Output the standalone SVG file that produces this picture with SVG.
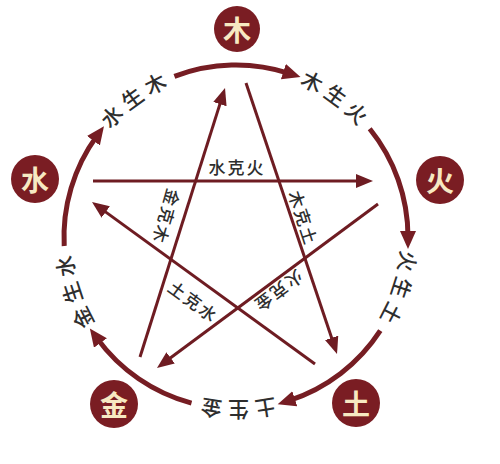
<svg xmlns="http://www.w3.org/2000/svg" width="500" height="464" viewBox="0 0 500 464">
<style>
.ring{fill:none;stroke:#761d23;stroke-width:5;marker-end:url(#ah-big)}
.ke{fill:none;stroke:#6e1c22;stroke-width:3;marker-end:url(#ah)}
.node circle{fill:#7a1d23}
.node text{font-family:"Noto Sans CJK SC","Noto Sans",sans-serif;font-size:28px;font-weight:bold;fill:#f7e9c2;text-anchor:middle;dominant-baseline:central}
.rl{font-family:"Noto Sans CJK SC","Noto Sans",sans-serif;font-size:21px;font-weight:500;fill:#2e2e2e;letter-spacing:5px}
.kl{font-family:"Noto Sans CJK SC","Noto Sans",sans-serif;font-size:17px;font-weight:500;fill:#2e2e2e;letter-spacing:2px;text-anchor:middle;dominant-baseline:central}
</style>
<defs>
<marker id="ah-big" markerUnits="userSpaceOnUse" markerWidth="20" markerHeight="18" refX="6" refY="8" orient="auto">
<path d="M0,0 L18,8 L0,16 z" fill="#761d23"/>
</marker>
<marker id="ah" markerUnits="userSpaceOnUse" markerWidth="20" markerHeight="16" refX="5" refY="7" orient="auto">
<path d="M0,0 L17,7 L0,14 z" fill="#6e1c22"/>
</marker>
<path id="ringpath" d="M236,72 A165,165 0 1 1 236,402 A165,165 0 1 1 236,72"/>
</defs>
<rect width="500" height="464" fill="#ffffff"/>
<g id="connectors">
<path class="ring" d="M174.4,76.4 A172,172 0 0 1 289.1,73.4"/>
<path class="ring" d="M369.7,128.8 A172,172 0 0 1 408,237"/>
<path class="ring" d="M380.3,330.7 A172,172 0 0 1 289.1,400.6"/>
<path class="ring" d="M191.5,403.1 A172,172 0 0 1 96.9,338.1"/>
<path class="ring" d="M64.2,246 A172,172 0 0 1 96.9,135.9"/>
<line class="ke" x1="93" y1="181" x2="361" y2="181"/>
<line class="ke" x1="378" y1="204" x2="166.6" y2="360.8"/>
<line class="ke" x1="315" y1="364" x2="101.7" y2="209.1"/>
<line class="ke" x1="140" y1="357" x2="221.4" y2="99.4"/>
<line class="ke" x1="246" y1="83" x2="333.2" y2="342.6"/>
</g>
<g id="ring-labels">
<text class="rl"><textPath href="#ringpath" startOffset="10%" text-anchor="middle">木生火</textPath></text>
<text class="rl"><textPath href="#ringpath" startOffset="30%" text-anchor="middle">火生土</textPath></text>
<text class="rl"><textPath href="#ringpath" startOffset="50%" text-anchor="middle">土生金</textPath></text>
<text class="rl"><textPath href="#ringpath" startOffset="70%" text-anchor="middle">金生水</textPath></text>
<text class="rl"><textPath href="#ringpath" startOffset="90%" text-anchor="middle">水生木</textPath></text>
</g>
<g id="ke-labels">
<text class="kl" transform="translate(237,166)">水克火</text>
<text class="kl" transform="translate(167,217) rotate(106)">金克木</text>
<text class="kl" transform="translate(304,218) rotate(72)">木克土</text>
<text class="kl" transform="translate(279,292) rotate(143)">火克金</text>
<text class="kl" transform="translate(194,301) rotate(36)">土克水</text>
</g>
<g id="node-mu" class="node"><circle cx="237" cy="29" r="23"/><text x="237" y="29">木</text></g>
<g id="node-huo" class="node"><circle cx="440" cy="180" r="24"/><text x="440" y="180">火</text></g>
<g id="node-tu" class="node"><circle cx="356" cy="403" r="24"/><text x="356" y="403">土</text></g>
<g id="node-jin" class="node"><circle cx="114" cy="404" r="24"/><text x="114" y="404">金</text></g>
<g id="node-shui" class="node"><circle cx="35" cy="179" r="24"/><text x="35" y="179">水</text></g>
</svg>
